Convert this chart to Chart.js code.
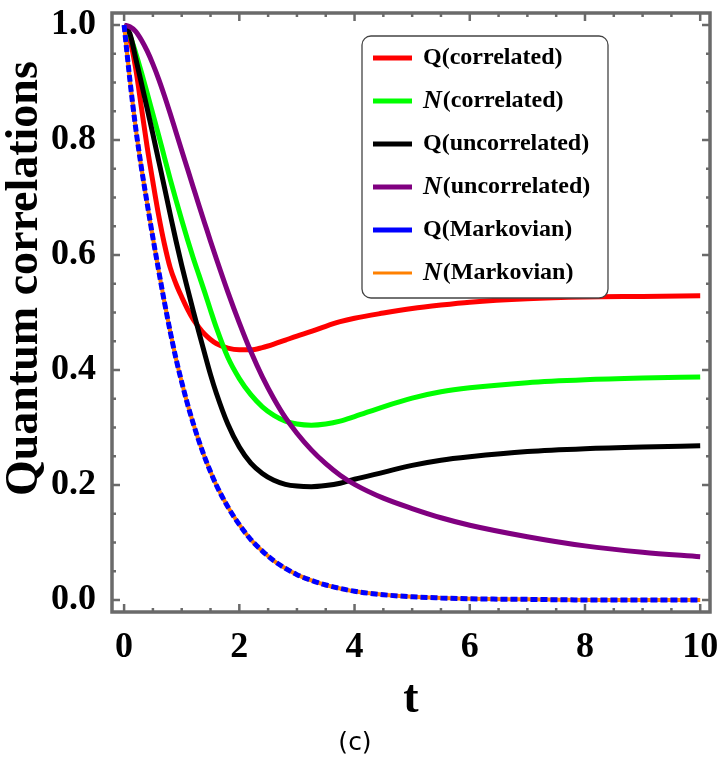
<!DOCTYPE html>
<html>
<head>
<meta charset="utf-8">
<script src="https://cdn.jsdelivr.net/npm/chart.js@4.4.0/dist/chart.umd.min.js"></script>
<style>
  html, body { margin: 0; padding: 0; background: #fff; }
  #wrap { width: 720px; height: 757px; }
</style>
</head>
<body>
<div id="wrap"><canvas id="chart" width="720" height="757"></canvas></div>
<script>
// time grid shared by every curve
const tValues = [0, 0.1, 0.2, 0.3, 0.4, 0.5, 0.6, 0.7, 0.8, 0.9, 1.0, 1.1, 1.2, 1.3, 1.4, 1.5, 1.6, 1.8,
  2.0, 2.2, 2.4, 2.6, 2.8, 3.0, 3.25, 3.5, 3.75, 4.0, 4.5, 5.0, 5.5, 6.0, 7, 8, 9, 10];

// values
const qCorrelated = [1.0, 0.975, 0.925, 0.857, 0.788, 0.727, 0.669, 0.619, 0.578, 0.55, 0.527, 0.506,
  0.488, 0.474, 0.462, 0.453, 0.446, 0.438, 0.435, 0.435, 0.439, 0.445, 0.452, 0.459, 0.467, 0.476,
  0.484, 0.49, 0.499, 0.507, 0.513, 0.518, 0.524, 0.527, 0.528, 0.529];
const nCorrelated = [1.0, 0.982, 0.952, 0.918, 0.882, 0.845, 0.808, 0.77, 0.732, 0.696, 0.661, 0.627,
  0.595, 0.565, 0.535, 0.504, 0.474, 0.422, 0.385, 0.357, 0.336, 0.321, 0.311, 0.306, 0.304, 0.306,
  0.311, 0.319, 0.336, 0.351, 0.362, 0.369, 0.378, 0.383, 0.386, 0.388];
const qUncorrelated = [1.0, 0.985, 0.943, 0.899, 0.855, 0.81, 0.764, 0.718, 0.671, 0.625, 0.582, 0.542,
  0.503, 0.465, 0.428, 0.392, 0.36, 0.306, 0.266, 0.238, 0.22, 0.208, 0.201, 0.198, 0.197, 0.199,
  0.203, 0.21, 0.222, 0.234, 0.243, 0.249, 0.258, 0.263, 0.266, 0.268];
const nUncorrelated = [1.0, 0.997, 0.989, 0.974, 0.955, 0.932, 0.906, 0.877, 0.846, 0.814, 0.782, 0.75,
  0.718, 0.686, 0.655, 0.624, 0.594, 0.536, 0.482, 0.432, 0.388, 0.35, 0.317, 0.29, 0.261, 0.237,
  0.217, 0.201, 0.177, 0.159, 0.143, 0.13, 0.11, 0.094, 0.083, 0.075];
const qMarkovian = [1.0, 0.905, 0.822, 0.752, 0.69, 0.63, 0.573, 0.518, 0.467, 0.42, 0.379, 0.341,
  0.307, 0.276, 0.248, 0.223, 0.2, 0.162, 0.131, 0.105, 0.085, 0.068, 0.055, 0.044, 0.034, 0.026,
  0.02, 0.015, 0.009, 0.0055, 0.0035, 0.002, 0.001, 0, 0, 0];
const nMarkovian = [1.0, 0.905, 0.822, 0.752, 0.69, 0.63, 0.573, 0.518, 0.467, 0.42, 0.379, 0.341,
  0.307, 0.276, 0.248, 0.223, 0.2, 0.162, 0.131, 0.105, 0.085, 0.068, 0.055, 0.044, 0.034, 0.026,
  0.02, 0.015, 0.009, 0.0055, 0.0035, 0.002, 0.001, 0, 0, 0];

const seriesLabels = ['Q(correlated)', 'N(correlated)', 'Q(uncorrelated)', 'N(uncorrelated)',
  'Q(Markovian)', 'N(Markovian)'];
const xTicks = [0, 2, 4, 6, 8, 10];
const yTicks = [0, 0.2, 0.4, 0.6, 0.8, 1.0];
const yTitle = 'Quantum correlations';

const SERIF = '"Liberation Serif", "Times New Roman", serif';
const FRAME = '#6a6a6a';

function points(values) {
  return tValues.map((t, i) => ({ x: t, y: values[i] }));
}

// no extra room for overhanging tick labels: the frame has a fixed place
function noLabelPadding(s) {
  s.paddingTop = 0;
  s.paddingBottom = 0;
  s.paddingLeft = 0;
  s.paddingRight = 0;
}

// frame with inward ticks on all four sides, plus the y title (sits above centre in the original)
const framePlugin = {
  id: 'frame',
  afterDraw(chart) {
    const { ctx, chartArea: a, scales: { x, y } } = chart;
    ctx.save();
    ctx.strokeStyle = FRAME;
    ctx.lineWidth = 2.5;
    ctx.beginPath();
    for (let k = 0; k <= 20; k++) {
      const px = x.getPixelForValue(k * 0.5);
      const len = k % 4 === 0 ? 8 : 4;
      ctx.moveTo(px, a.bottom); ctx.lineTo(px, a.bottom - len);
      ctx.moveTo(px, a.top); ctx.lineTo(px, a.top + len);
    }
    for (let k = 0; k <= 20; k++) {
      const py = y.getPixelForValue(k * 0.05);
      const len = k % 4 === 0 ? 8 : 4;
      ctx.moveTo(a.left, py); ctx.lineTo(a.left + len, py);
      ctx.moveTo(a.right, py); ctx.lineTo(a.right - len, py);
    }
    ctx.stroke();
    ctx.lineWidth = 3.5;
    ctx.strokeRect(a.left, a.top, a.right - a.left, a.bottom - a.top);

    ctx.translate(25, y.getPixelForValue(0.559));
    ctx.rotate(-Math.PI / 2);
    ctx.fillStyle = '#000';
    ctx.font = 'bold 46px ' + SERIF;
    ctx.textAlign = 'center';
    ctx.textBaseline = 'middle';
    ctx.fillText(yTitle, 0, 0);
    ctx.restore();
  }
};

// boxed legend inside the plot, like the Mathematica one
const legendPlugin = {
  id: 'boxLegend',
  afterDraw(chart) {
    const ctx = chart.ctx;
    const box = { x: 362, y: 36, w: 246, h: 262 };
    ctx.save();
    ctx.fillStyle = '#fff';
    ctx.strokeStyle = '#444';
    ctx.lineWidth = 1.3;
    ctx.beginPath();
    ctx.roundRect(box.x, box.y, box.w, box.h, 9);
    ctx.fill();
    ctx.stroke();

    seriesLabels.forEach((label, i) => {
      const ds = chart.data.datasets.find(d => d.label === label);
      const rowY = 58 + i * 43;
      ctx.strokeStyle = ds.borderColor;
      ctx.lineWidth = label === 'N(Markovian)' ? 3 : 5;
      ctx.beginPath();
      ctx.moveTo(373, rowY);
      ctx.lineTo(412, rowY);
      ctx.stroke();

      ctx.fillStyle = '#000';
      ctx.textBaseline = 'middle';
      ctx.textAlign = 'left';
      let tx = 423;
      if (label[0] === 'N') {
        ctx.font = 'italic bold 26px ' + SERIF;
        ctx.fillText('N', tx, rowY);
        tx += ctx.measureText('N').width + 1;
        ctx.font = 'bold 24px ' + SERIF;
        ctx.fillText(label.slice(1), tx, rowY);
      } else {
        ctx.font = 'bold 24px ' + SERIF;
        ctx.fillText(label, tx, rowY);
      }
    });
    ctx.restore();
  }
};

const ctx = document.getElementById('chart').getContext('2d');

new Chart(ctx, {
  type: 'line',
  data: {
    datasets: [
      { label: seriesLabels[0], data: points(qCorrelated), borderColor: '#ff0000', borderWidth: 5, order: 5 },
      { label: seriesLabels[1], data: points(nCorrelated), borderColor: '#00ff00', borderWidth: 5, order: 4 },
      { label: seriesLabels[2], data: points(qUncorrelated), borderColor: '#000000', borderWidth: 5, order: 3 },
      { label: seriesLabels[3], data: points(nUncorrelated), borderColor: '#800080', borderWidth: 5, order: 2 },
      { label: seriesLabels[5], data: points(nMarkovian), borderColor: '#ff8000', borderWidth: 4, order: 1 },
      { label: seriesLabels[4], data: points(qMarkovian), borderColor: '#0000ff', borderWidth: 5,
        borderDash: [7, 3], order: 0 }
    ]
  },
  options: {
    responsive: false,
    animation: false,
    events: [],
    layout: { autoPadding: false, padding: { top: 13, right: 10, left: 0, bottom: 0 } },
    elements: {
      point: { radius: 0 },
      line: { cubicInterpolationMode: 'monotone', fill: false, borderCapStyle: 'butt' }
    },
    plugins: {
      legend: { display: false },
      tooltip: { enabled: false },
      title: {
        display: true,
        position: 'bottom',
        text: '(c)',
        color: '#000',
        font: { family: '"DejaVu Sans", sans-serif', size: 25, weight: 'normal', lineHeight: 1.0 },
        padding: { top: 0, bottom: 1 }
      }
    },
    scales: {
      x: {
        type: 'linear',
        min: -0.21,
        max: 10.17,
        grid: { display: false },
        border: { display: false },
        afterBuildTicks: s => { s.ticks = xTicks.map(v => ({ value: v })); },
        afterFit: s => { s.height = 757 - 26 - 612; noLabelPadding(s); },
        ticks: {
          color: '#000',
          padding: 6,
          maxRotation: 0,
          font: { family: SERIF, size: 36, weight: 'bold' },
          callback: v => String(v)
        },
        title: {
          display: true,
          text: 't',
          color: '#000',
          font: { family: SERIF, size: 46, weight: 'bold', lineHeight: 1.0 },
          padding: { top: 0, bottom: 8 }
        }
      },
      y: {
        type: 'linear',
        min: -0.021,
        max: 1.021,
        grid: { display: false },
        border: { display: false },
        afterBuildTicks: s => { s.ticks = yTicks.map(v => ({ value: v })); },
        afterFit: s => { s.width = 112; noLabelPadding(s); },
        ticks: {
          color: '#000',
          padding: 8,
          font: { family: SERIF, size: 36, weight: 'bold' },
          callback: v => Number(v).toFixed(1)
        }
      }
    }
  },
  plugins: [framePlugin, legendPlugin]
});
</script>
</body>
</html>
